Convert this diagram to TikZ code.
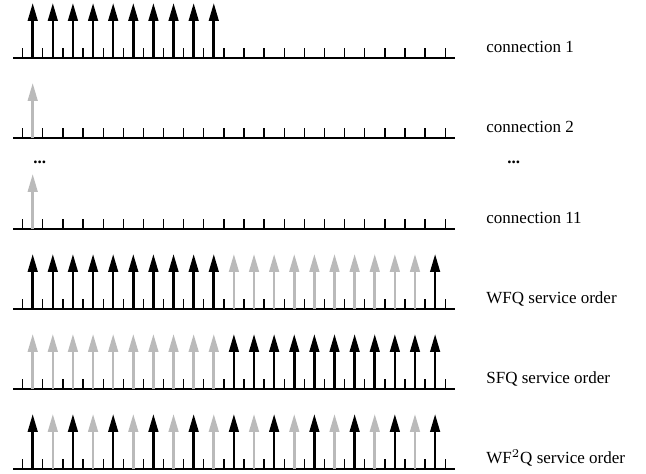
\documentclass[tikz,border=0pt]{standalone}
\usepackage{fontspec}
\setmainfont{Liberation Serif}
\usetikzlibrary{arrows.meta}

\colorlet{idlegray}{black!27}

\tikzset{
	slotline/.style = {line width = 0.7pt},
	slottick/.style = {line width = 0.65pt},
	packet/.style = {line width = 1.3pt, -{Triangle[length = 9pt, width = 4.8pt]}},
	rowlabel/.style = {anchor = base west, inner sep = 0pt}
}

\begin{document}
\begin{tikzpicture}[x = 0.5pt, y = -0.5pt, font = \fontsize{8.5}{10}\selectfont]

\useasboundingbox (0, 0) rectangle (646, 474);

% time axes with one tick per slot
\foreach \y in {58, 138, 229, 309, 389, 469}{
	\draw [slotline] (13, \y) -- (455, \y);
	\foreach \i in {0, ..., 21}
		\draw [slottick] ({22.7 + 20.12 * \i}, \y) -- ({22.7 + 20.12 * \i}, {\y - 10});
}

% connection 1: ten packets back to back
\foreach \k in {0, ..., 9}
	\draw [packet] ({32.7 + 20.12 * \k}, 58) -- ++ (0, -55);

% connections 2 ... 11: one packet each
\draw [packet, idlegray] (32.7, 138) -- ++ (0, -55);
\draw [packet, idlegray] (32.7, 229) -- ++ (0, -55);

% WFQ
\foreach \k in {0, ..., 20}{
	\ifnum\k<10 \def\pcol{black}\else\ifnum\k<20 \def\pcol{idlegray}\else\def\pcol{black}\fi\fi
	\draw [packet, \pcol] ({32.7 + 20.12 * \k}, 309) -- ++ (0, -55);
}

% SFQ
\foreach \k in {0, ..., 20}{
	\ifnum\k<10 \def\pcol{idlegray}\else\def\pcol{black}\fi
	\draw [packet, \pcol] ({32.7 + 20.12 * \k}, 389) -- ++ (0, -55);
}

% WF2Q alternates
\foreach \k in {0, ..., 20}{
	\ifodd\k \def\pcol{idlegray}\else\def\pcol{black}\fi
	\draw [packet, \pcol] ({32.7 + 20.12 * \k}, 469) -- ++ (0, -55);
}

\node [rowlabel] (conn1) at (486, 52.7) {connection 1};
\node [rowlabel] (conn2) at (486, 132.7) {connection 2};
\node [rowlabel] (conn11) at (486, 223.5) {connection 11};
\node [rowlabel] (wfq) at (486, 303.5) {WFQ service order};
\node [rowlabel] (sfq) at (486, 383.5) {SFQ service order};
\node [rowlabel] (wf2q) at (486, 463.5) {WF$^2$Q service order};

\node [rowlabel] (dotsleft) at (33, 164) {\textbf{...}};
\node [rowlabel] (dotsright) at (507, 164) {\textbf{...}};

\end{tikzpicture}
\end{document}
